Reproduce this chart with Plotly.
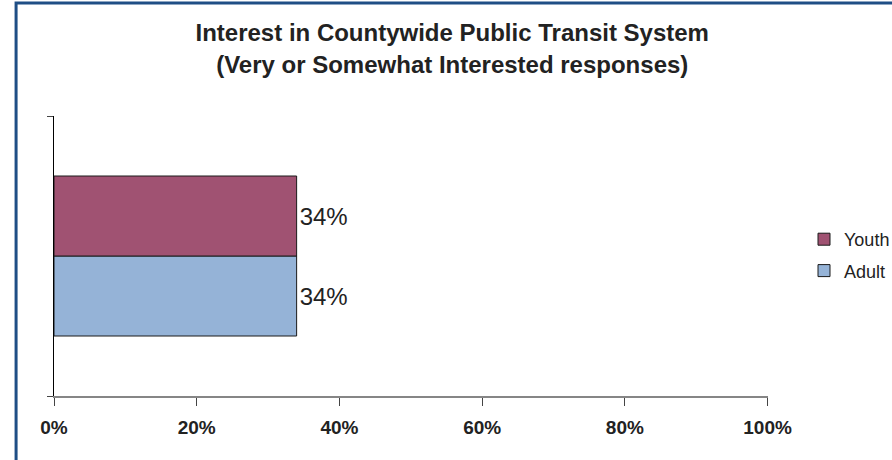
import plotly.graph_objects as go

categories = [""]
series_names = ["Adult", "Youth"]
adult_values = [0.34]
youth_values = [0.34]
series_colors = {"Adult": "#95B3D7", "Youth": "#A05272"}
legend_ranks = {"Youth": 1, "Adult": 2}
x_tick_values = [0, 0.2, 0.4, 0.6, 0.8, 1.0]
x_tick_labels = ["0%", "20%", "40%", "60%", "80%", "100%"]
title_lines = ["Interest in Countywide Public Transit System",
               "(Very or Somewhat Interested responses)"]

FONT = "Liberation Sans, Arial, sans-serif"

fig = go.Figure()
for name, vals in zip(series_names, [adult_values, youth_values]):
    fig.add_trace(go.Bar(
        y=categories, x=vals, name=name, orientation="h", legendgroup=name,
        legendrank=legend_ranks[name],
        marker=dict(color=series_colors[name], line=dict(color="#1a1a1a", width=1)),
        texttemplate="%{x:.0%}", textposition="outside",
        textfont=dict(family=FONT, size=24, color="#222222"),
        cliponaxis=False,
    ))

fig.update_layout(
    width=892, height=460, autosize=False,
    margin=dict(l=54, r=123, t=116, b=64),
    paper_bgcolor="white", plot_bgcolor="white",
    barmode="group", bargap=0.4286, bargroupgap=0,
    showlegend=True,
    legend=dict(traceorder="grouped", xref="container", yref="container",
                x=804 / 892, xanchor="left", y=1 - 255 / 460, yanchor="middle",
                font=dict(family=FONT, size=18, color="#222222"),
                bgcolor="rgba(0,0,0,0)", itemwidth=30, tracegroupgap=5),
    title=dict(text="<br>".join(title_lines), x=0.507, xanchor="center", y=0.91, yanchor="middle",
               font=dict(family=FONT, size=24, color="#222222", weight="bold")),
    xaxis=dict(range=[0, 1], tickvals=x_tick_values, ticktext=x_tick_labels,
               showline=True, linecolor="#868686", linewidth=2,
               ticks="outside", ticklen=8, tickcolor="#444444", tickwidth=1,
               ticklabelstandoff=5,
               showgrid=False, zeroline=False,
               tickfont=dict(family=FONT, size=19, color="#222222", weight="bold")),
    yaxis=dict(range=[-0.5, 0.5], type="category", showline=True, linecolor="#000000", linewidth=1,
               ticks="outside", ticklen=6, tickcolor="#444444", tickson="boundaries",
               showgrid=False, zeroline=False, showticklabels=False),
    shapes=[dict(type="rect", xref="paper", yref="paper",
                 x0=(16 - 54) / 715, x1=1.3, y0=(396 - 3) / 280, y1=-0.5,
                 line=dict(color="#1F4E85", width=3), fillcolor="rgba(0,0,0,0)", layer="above")],
)

fig.write_html("out.html", config={"displayModeBar": False},
               post_script="document.body.style.margin='0';document.body.style.overflow='hidden';")
